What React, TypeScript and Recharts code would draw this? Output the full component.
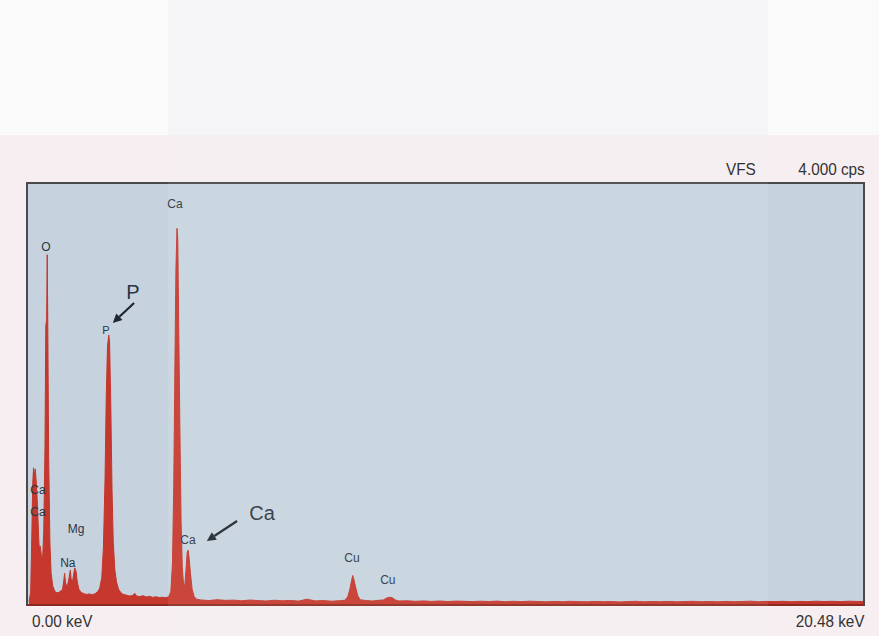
import React from "react";
import { AreaChart, Area, XAxis, YAxis, CartesianGrid, ReferenceDot, ReferenceLine, ReferenceArea } from "recharts";

// EDS spectrum, [keV, cps]
const lowPeaks: [number, number][] = [
  [0.05, 30], [0.09, 120], [0.12, 700], [0.14, 1150], [0.16, 1300], [0.18, 1220], [0.2, 1290], [0.22, 1200],
  [0.25, 1000], [0.28, 700], [0.3, 520], [0.32, 560], [0.35, 480], [0.38, 420], [0.41, 700], [0.44, 1500],
  [0.46, 2650], [0.48, 2700], [0.495, 3320], [0.51, 2600], [0.53, 1400], [0.56, 600], [0.59, 300], [0.63, 180],
  [0.68, 130], [0.73, 115], [0.78, 120], [0.83, 135], [0.87, 150], [0.9, 230], [0.92, 300], [0.94, 220],
  [0.97, 170], [1.0, 200], [1.03, 260], [1.06, 330], [1.08, 250], [1.11, 210], [1.14, 290], [1.17, 350],
  [1.2, 320], [1.23, 220], [1.27, 150], [1.32, 120], [1.38, 110], [1.45, 100], [1.52, 105], [1.6, 98],
  [1.67, 108], [1.73, 125], [1.78, 160], [1.83, 260], [1.87, 550], [1.91, 1200], [1.94, 2000], [1.97, 2450],
  [2.0, 2560], [2.02, 2500], [2.05, 1900], [2.08, 1100], [2.11, 600], [2.15, 330], [2.19, 220], [2.24, 150],
  [2.3, 115], [2.36, 100],
];

const midBackground: [number, number][] = [
  [2.42, 95], [2.5, 85], [2.58, 90], [2.64, 110], [2.68, 85], [2.76, 80], [2.84, 88], [2.92, 76],
  [3.0, 82], [3.08, 72], [3.16, 78], [3.24, 70], [3.32, 74], [3.4, 68], [3.47, 80], [3.52, 130],
];

const caPeaks: [number, number][] = [
  [3.56, 400], [3.59, 1100], [3.62, 2300], [3.645, 3200], [3.67, 3570], [3.69, 3450], [3.71, 2700],
  [3.74, 1700], [3.77, 800], [3.8, 350], [3.83, 200], [3.86, 180], [3.89, 330], [3.92, 500], [3.945, 520],
  [3.97, 430], [4.0, 300], [4.04, 150], [4.09, 80], [4.15, 55],
];

const cuPeaks: [number, number][] = [
  [7.78, 45], [7.85, 80], [7.9, 150], [7.94, 230], [7.97, 280], [8.0, 240], [8.04, 170], [8.09, 90], [8.15, 50],
  [8.72, 48], [8.8, 66], [8.87, 74], [8.94, 68], [9.01, 48], [9.1, 38],
];

const highBackground: [number, number][] = [
  [4.25, 48], [4.45, 42], [4.65, 50], [4.85, 44], [5.05, 46], [5.25, 40], [5.45, 47], [5.65, 42],
  [5.85, 38], [6.05, 45], [6.25, 40], [6.45, 43], [6.65, 37], [6.85, 55], [7.05, 39], [7.25, 42],
  [7.45, 36], [7.65, 41], [8.3, 42], [8.45, 38], [8.6, 44], [9.3, 40], [9.5, 35], [9.7, 39],
  [9.9, 34], [10.1, 38], [10.3, 33], [10.5, 37], [10.7, 35], [10.9, 32], [11.1, 36], [11.3, 33],
  [11.5, 37], [11.7, 31], [11.9, 35], [12.1, 32], [12.3, 36], [12.5, 33], [12.7, 30], [12.9, 34],
  [13.1, 31], [13.3, 35], [13.5, 32], [13.7, 30], [13.9, 34], [14.1, 31], [14.3, 33], [14.5, 29],
  [14.7, 32], [14.9, 35], [15.1, 30], [15.3, 33], [15.5, 31], [15.7, 34], [15.9, 30], [16.1, 32],
  [16.3, 35], [16.5, 31], [16.7, 33], [16.9, 30], [17.1, 34], [17.3, 31], [17.5, 33], [17.7, 36],
  [17.9, 31], [18.1, 34], [18.3, 32], [18.5, 35], [18.7, 31], [18.9, 34], [19.1, 32], [19.3, 36],
  [19.5, 33], [19.7, 35], [19.9, 32], [20.1, 36], [20.3, 34], [20.48, 33],
];

// peak labels: [text, keV, cps, fontSize]
const peakLabels: [string, number, number, number][] = [
  ["Ca", 3.62, 3801, 12], ["O", 0.465, 3394, 12], ["P", 1.93, 2607, 11], ["P", 2.59, 2967, 20],
  ["Ca", 0.27, 1090, 12], ["Ca", 0.27, 882, 12], ["Mg", 1.2, 720, 12], ["Na", 1.0, 398, 12],
  ["Ca", 3.94, 616, 12], ["Ca", 5.75, 872, 20], ["Cu", 7.95, 446, 12], ["Cu", 8.83, 237, 12],
];

const arrows: [number, number, number, number][] = [
  [2.62, 2863, 2.1, 2673],
  [5.14, 796, 4.4, 607],
];

const data = [...lowPeaks, ...midBackground, ...caPeaks, ...cuPeaks, ...highBackground]
  .sort((a, b) => a[0] - b[0])
  .map(([e, c]) => ({ e, c }));

const textColor = "#2b3543";
const cornerText: React.CSSProperties = {
  position: "absolute",
  fontFamily: "'Liberation Sans', Arial, sans-serif",
  fontSize: 17,
  color: "#333",
  transform: "scaleX(0.9)",
  whiteSpace: "nowrap",
};

function Arrow(props: any) {
  const { x1, y1, x2, y2 } = props;
  const a = Math.atan2(y2 - y1, x2 - x1);
  const len = 9;
  const w = 4.5;
  const bx = x2 - len * Math.cos(a);
  const by = y2 - len * Math.sin(a);
  const px = -Math.sin(a) * w;
  const py = Math.cos(a) * w;
  return (
    <g>
      <line x1={x1} y1={y1} x2={bx} y2={by} stroke="#1e2630" strokeWidth={2.2} />
      <polygon points={`${x2},${y2} ${bx + px},${by + py} ${bx - px},${by - py}`} fill="#1e2630" />
    </g>
  );
}

export default function App() {
  return (
    <div style={{ position: "relative", width: 879, height: 636, overflow: "hidden", background: "#f6eef0" }}>
      <style>{`body{margin:0}`}</style>
      <div style={{ position: "absolute", left: 0, top: 0, width: 879, height: 135, background: "#fafafb" }} />
      <AreaChart
        width={879}
        height={636}
        data={data}
        margin={{ top: 183, right: 15, bottom: 31, left: 27 }}
        style={{ position: "absolute", left: 0, top: 0 }}
      >
        <CartesianGrid horizontal={false} vertical={false} fill="#c6d3de" />
        <XAxis dataKey="e" type="number" domain={[0, 20.48]} hide allowDataOverflow />
        <YAxis type="number" domain={[0, 4000]} hide allowDataOverflow />
        <Area
          type="linear"
          dataKey="c"
          stroke="#c4362b"
          strokeWidth={1}
          fill="#c6382d"
          fillOpacity={1}
          dot={false}
          activeDot={false}
          isAnimationActive={false}
        />
        <ReferenceArea x1={0} x2={20.48} y1={0} y2={4000} fill="none" stroke="#4a4a4a" strokeWidth={2} ifOverflow="visible" />
        <ReferenceLine y={0} stroke="#8a2a22" strokeWidth={2} ifOverflow="visible" />
        {peakLabels.map(([t, e, c, fs], i) => (
          <ReferenceDot
            key={`lbl-${i}`}
            x={e}
            y={c}
            r={0}
            stroke="none"
            fill="none"
            label={{ value: t, position: "center", fill: textColor, fontSize: fs, fontFamily: "'Liberation Sans', Arial, sans-serif" }}
          />
        ))}
        {arrows.map(([ex1, cy1, ex2, cy2], i) => (
          <ReferenceLine
            key={`arr-${i}`}
            segment={[{ x: ex1, y: cy1 }, { x: ex2, y: cy2 }]}
            shape={Arrow}
            ifOverflow="visible"
          />
        ))}
      </AreaChart>
      <div style={{ position: "absolute", left: 168, top: 0, width: 600, height: 135, background: "rgba(230,232,238,0.25)", pointerEvents: "none" }} />
      <div style={{ position: "absolute", left: 168, top: 135, width: 600, height: 501, background: "rgba(255,255,255,0.07)", pointerEvents: "none" }} />
      <span style={{ ...cornerText, left: 726, top: 160, transformOrigin: "left center" }}>VFS</span>
      <span style={{ ...cornerText, right: 14, top: 160, transformOrigin: "right center" }}>4.000 cps</span>
      <span style={{ ...cornerText, left: 32, top: 612, transformOrigin: "left center" }}>0.00 keV</span>
      <span style={{ ...cornerText, right: 14, top: 612, transformOrigin: "right center" }}>20.48 keV</span>
    </div>
  );
}
